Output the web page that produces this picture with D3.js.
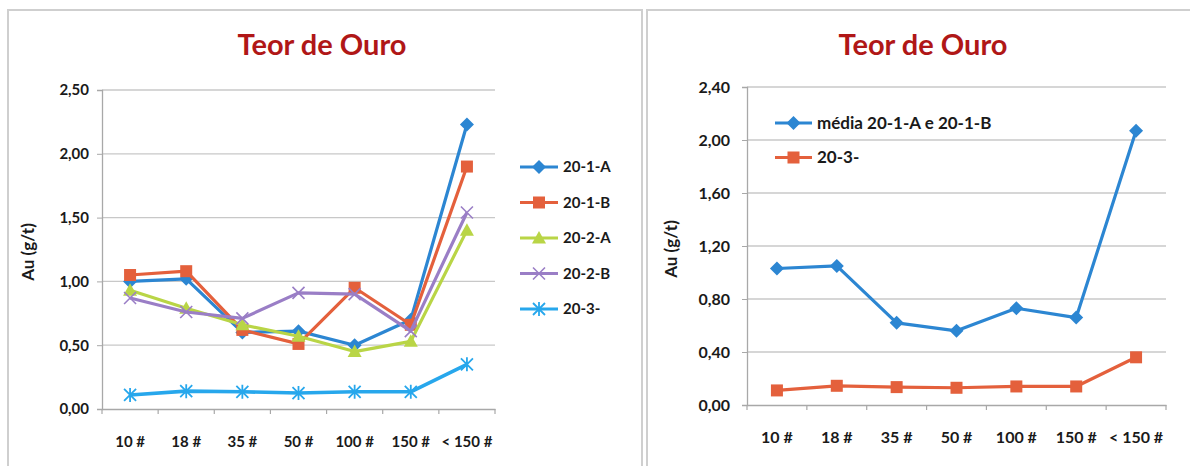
<!DOCTYPE html>
<html><head><meta charset="utf-8">
<script src="https://cdn.jsdelivr.net/npm/d3@7/dist/d3.min.js"></script>
<style>
body{margin:0;background:#fff;}
svg{display:block;font-family:Lato,"Open Sans",sans-serif;}
</style></head>
<body>
<svg id="c" width="1190" height="466"></svg>
<script>
const categories = ["10 #","18 #","35 #","50 #","100 #","150 #","< 150 #"];
const title = "Teor de Ouro";
const yTitle = "Au (g/t)";

// left chart series
const s201A = [1.00, 1.02, 0.60, 0.61, 0.50, 0.70, 2.23];
const s201B = [1.05, 1.08, 0.62, 0.51, 0.95, 0.66, 1.90];
const s202A = [0.93, 0.79, 0.66, 0.57, 0.45, 0.53, 1.40];
const s202B = [0.87, 0.76, 0.71, 0.91, 0.90, 0.61, 1.54];
const s203L = [0.11, 0.14, 0.135, 0.125, 0.135, 0.135, 0.35];
const leftTicks = [0, 0.5, 1.0, 1.5, 2.0, 2.5];

// right chart series
const sMedia = [1.03, 1.05, 0.62, 0.56, 0.73, 0.66, 2.07];
const s203R = [0.11, 0.145, 0.135, 0.13, 0.14, 0.14, 0.36];
const rightTicks = [0, 0.4, 0.8, 1.2, 1.6, 2.0, 2.4];

const C = {blue:"#2C86D2", orange:"#E4603C", green:"#B9D546", purple:"#9A7EC6", sky:"#27A7EC"};

const svg = d3.select("#c");
const fmt = v => d3.format(".2f")(v).replace(".", ",");

// panel borders
svg.append("rect").attr("x",8).attr("y",10).attr("width",634).attr("height",470)
  .attr("fill","#fff").attr("stroke","#cfcfcf").attr("stroke-width",2);
svg.append("rect").attr("x",647).attr("y",10).attr("width",560).attr("height",470)
  .attr("fill","#fff").attr("stroke","#cfcfcf").attr("stroke-width",2);

function marker(g, type, color, x, y){
  if(type==="diamond"){
    g.append("path").attr("d","M0,-7L7,0L0,7L-7,0Z").attr("transform",`translate(${x},${y})`).attr("fill",color);
  } else if(type==="square"){
    g.append("rect").attr("x",x-6).attr("y",y-6).attr("width",12).attr("height",12).attr("fill",color);
  } else if(type==="triangle"){
    g.append("path").attr("d","M0,-7L7,5.5L-7,5.5Z").attr("transform",`translate(${x},${y})`).attr("fill",color);
  } else if(type==="x"){
    g.append("path").attr("d","M-6,-6L6,6M-6,6L6,-6").attr("transform",`translate(${x},${y})`)
      .attr("stroke",color).attr("stroke-width",1.6).attr("fill","none");
  } else if(type==="star"){
    g.append("path").attr("d","M-6,-6L6,6M-6,6L6,-6M0,-7L0,7").attr("transform",`translate(${x},${y})`)
      .attr("stroke",color).attr("stroke-width",1.8).attr("fill","none");
  }
}

function drawChart(cfg){
  const g = svg.append("g");
  const x = d3.scaleBand().domain(categories).range([cfg.x0, cfg.x1]);
  const y = d3.scaleLinear().domain([0, cfg.ticks[cfg.ticks.length-1]]).range([cfg.y0, cfg.y1]);

  // gridlines
  g.selectAll(".grid").data(cfg.ticks.slice(1)).join("line")
    .attr("x1", cfg.x0).attr("x2", cfg.x1)
    .attr("y1", d=>y(d)).attr("y2", d=>y(d))
    .attr("stroke","#c8c8c8").attr("stroke-width",1.3);

  // y axis
  const ya = g.append("g").attr("transform",`translate(${cfg.x0},0)`)
    .call(d3.axisLeft(y).tickValues(cfg.ticks).tickFormat(fmt).tickSize(5).tickPadding(cfg.yPad));
  ya.select(".domain").attr("stroke","#a8a8a8").attr("stroke-width",1.3);
  ya.selectAll(".tick line").attr("stroke","#a8a8a8");
  ya.selectAll("text").attr("font-size",cfg.tickSize).attr("fill","#1a1a1a").attr("font-weight",700)
    .attr("font-family","Lato");

  // x axis
  const xa = g.append("g").attr("transform",`translate(0,${cfg.y0})`)
    .call(d3.axisBottom(x).tickSize(0).tickPadding(cfg.xPad));
  xa.select(".domain").attr("stroke","#a8a8a8").attr("stroke-width",1.3);
  xa.selectAll("text").attr("font-size",cfg.tickSize).attr("fill","#1a1a1a").attr("font-weight",700)
    .attr("font-family","Lato");
  const bounds = categories.map(c=>x(c)).concat([cfg.x1]);
  g.selectAll(".xt").data(bounds).join("line")
    .attr("x1",d=>d).attr("x2",d=>d).attr("y1",cfg.y0).attr("y2",cfg.y0+5)
    .attr("stroke","#a8a8a8").attr("stroke-width",1.2);

  // series
  const line = d3.line().x((d,i)=>x(categories[i])+x.bandwidth()/2).y(d=>y(d));
  cfg.series.forEach(s=>{
    g.append("path").datum(s.values).attr("d",line).attr("fill","none")
      .attr("stroke",s.color).attr("stroke-width",s.width||3.2).attr("stroke-linejoin","round");
    s.values.forEach((v,i)=>marker(g, s.marker, s.color, x(categories[i])+x.bandwidth()/2, y(v)));
  });

  // legend
  cfg.series.forEach((s,i)=>{
    const ly = cfg.legY + i*cfg.legStep;
    g.append("line").attr("x1",cfg.legX).attr("x2",cfg.legX+cfg.legLen).attr("y1",ly).attr("y2",ly)
      .attr("stroke",s.color).attr("stroke-width",3);
    marker(g, s.marker, s.color, cfg.legX+cfg.legLen/2, ly);
    g.append("text").attr("x",cfg.legX+cfg.legLen+5).attr("y",ly).attr("dy","0.35em")
      .attr("font-size",cfg.legSize).attr("font-weight",700).attr("fill","#1a1a1a").text(s.name);
  });

  // title
  g.append("text").attr("x",cfg.titleX).attr("y",55).attr("text-anchor","middle")
    .attr("font-size",29).attr("font-weight",700).attr("fill","#B01717").text(title);

  // y title
  g.append("text").attr("transform",`translate(${cfg.ytX},${cfg.ytY}) rotate(-90)`)
    .attr("text-anchor","middle").attr("dy","0.35em")
    .attr("font-size",17).attr("font-weight",700).attr("fill","#1a1a1a").text(yTitle);
}

drawChart({
  x0:102, x1:495, y0:409, y1:90, ticks:leftTicks, yPad:8, xPad:27, tickSize:15,
  titleX:322, ytX:28, ytY:252,
  legX:520, legLen:38, legY:167, legStep:35.5, legSize:15,
  series:[
    {name:"20-1-A", values:s201A, color:C.blue, marker:"diamond"},
    {name:"20-1-B", values:s201B, color:C.orange, marker:"square"},
    {name:"20-2-A", values:s202A, color:C.green, marker:"triangle"},
    {name:"20-2-B", values:s202B, color:C.purple, marker:"x"},
    {name:"20-3-", values:s203L, color:C.sky, marker:"star", width:3.6}
  ]
});

drawChart({
  x0:747, x1:1166, y0:405, y1:87, ticks:rightTicks, yPad:12, xPad:27, tickSize:16,
  titleX:923, ytX:671, ytY:249,
  legX:775, legLen:37, legY:123, legStep:34.5, legSize:17,
  series:[
    {name:"média 20-1-A e 20-1-B", values:sMedia, color:C.blue, marker:"diamond"},
    {name:"20-3-", values:s203R, color:C.orange, marker:"square"}
  ]
});
</script>
</body></html>
